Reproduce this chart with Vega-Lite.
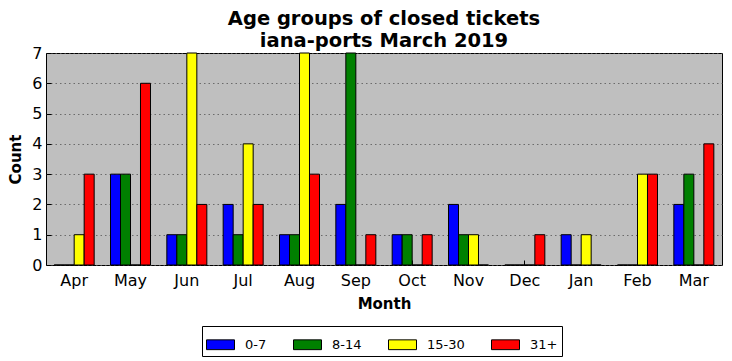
{
  "$schema": "https://vega.github.io/schema/vega-lite/v6.json",
  "width": 676,
  "height": 212,
  "autosize": {"type": "none"},
  "padding": {"left": 46, "top": 53, "right": 10, "bottom": 96},
  "background": "white",
  "title": {
    "text": ["Age groups of closed tickets", "iana-ports March 2019"],
    "font": "DejaVu Sans",
    "fontSize": 19.5,
    "fontWeight": "bold",
    "lineHeight": 22,
    "anchor": "middle",
    "frame": "group",
    "offset": -6,
    "color": "black"
  },
  "config": {
    "view": {"fill": "#bfbfbf", "stroke": "black", "strokeWidth": 1},
    "axis": {
      "labelFont": "DejaVu Sans",
      "labelFontSize": 16,
      "labelColor": "black",
      "titleFont": "DejaVu Sans",
      "titleFontSize": 15,
      "titleFontWeight": "bold",
      "titleColor": "black",
      "domain": false,
      "tickColor": "black",
      "tickSize": -5,
      "grid": false
    },
    "legend": {
      "labelFont": "DejaVu Sans",
      "labelFontSize": 13,
      "labelColor": "black"
    }
  },
  "data": {
    "values": [
      {"month": "Apr", "group": "0-7", "count": 0},
      {"month": "Apr", "group": "8-14", "count": 0},
      {"month": "Apr", "group": "15-30", "count": 1},
      {"month": "Apr", "group": "31+", "count": 3},
      {"month": "May", "group": "0-7", "count": 3},
      {"month": "May", "group": "8-14", "count": 3},
      {"month": "May", "group": "15-30", "count": 0},
      {"month": "May", "group": "31+", "count": 6},
      {"month": "Jun", "group": "0-7", "count": 1},
      {"month": "Jun", "group": "8-14", "count": 1},
      {"month": "Jun", "group": "15-30", "count": 7},
      {"month": "Jun", "group": "31+", "count": 2},
      {"month": "Jul", "group": "0-7", "count": 2},
      {"month": "Jul", "group": "8-14", "count": 1},
      {"month": "Jul", "group": "15-30", "count": 4},
      {"month": "Jul", "group": "31+", "count": 2},
      {"month": "Aug", "group": "0-7", "count": 1},
      {"month": "Aug", "group": "8-14", "count": 1},
      {"month": "Aug", "group": "15-30", "count": 7},
      {"month": "Aug", "group": "31+", "count": 3},
      {"month": "Sep", "group": "0-7", "count": 2},
      {"month": "Sep", "group": "8-14", "count": 7},
      {"month": "Sep", "group": "15-30", "count": 0},
      {"month": "Sep", "group": "31+", "count": 1},
      {"month": "Oct", "group": "0-7", "count": 1},
      {"month": "Oct", "group": "8-14", "count": 1},
      {"month": "Oct", "group": "15-30", "count": 0},
      {"month": "Oct", "group": "31+", "count": 1},
      {"month": "Nov", "group": "0-7", "count": 2},
      {"month": "Nov", "group": "8-14", "count": 1},
      {"month": "Nov", "group": "15-30", "count": 1},
      {"month": "Nov", "group": "31+", "count": 0},
      {"month": "Dec", "group": "0-7", "count": 0},
      {"month": "Dec", "group": "8-14", "count": 0},
      {"month": "Dec", "group": "15-30", "count": 0},
      {"month": "Dec", "group": "31+", "count": 1},
      {"month": "Jan", "group": "0-7", "count": 1},
      {"month": "Jan", "group": "8-14", "count": 0},
      {"month": "Jan", "group": "15-30", "count": 1},
      {"month": "Jan", "group": "31+", "count": 0},
      {"month": "Feb", "group": "0-7", "count": 0},
      {"month": "Feb", "group": "8-14", "count": 0},
      {"month": "Feb", "group": "15-30", "count": 3},
      {"month": "Feb", "group": "31+", "count": 3},
      {"month": "Mar", "group": "0-7", "count": 2},
      {"month": "Mar", "group": "8-14", "count": 3},
      {"month": "Mar", "group": "15-30", "count": 0},
      {"month": "Mar", "group": "31+", "count": 4}
    ]
  },
  "mark": {"type": "bar", "stroke": "black", "strokeWidth": 1},
  "encoding": {
    "x": {
      "field": "month",
      "type": "nominal",
      "sort": ["Apr", "May", "Jun", "Jul", "Aug", "Sep", "Oct", "Nov", "Dec", "Jan", "Feb", "Mar"],
      "scale": {"paddingInner": 0.29, "paddingOuter": 0.145},
      "axis": {"orient": "bottom", "labelAngle": 0, "labelPadding": 12, "title": "Month", "titlePadding": 8}
    },
    "xOffset": {
      "field": "group",
      "type": "nominal",
      "sort": ["0-7", "8-14", "15-30", "31+"],
      "scale": {"paddingInner": 0, "paddingOuter": 0}
    },
    "y": {
      "field": "count",
      "type": "quantitative",
      "scale": {"domain": [0, 7], "nice": false},
      "axis": {
        "orient": "left",
        "values": [0, 1, 2, 3, 4, 5, 6, 7],
        "labelPadding": 9,
        "title": "Count",
        "titlePadding": 8,
        "grid": true,
        "gridDash": [1.5, 3],
        "gridColor": "#555555",
        "gridWidth": 0.8
      }
    },
    "color": {
      "field": "group",
      "type": "nominal",
      "sort": ["0-7", "8-14", "15-30", "31+"],
      "scale": {"domain": ["0-7", "8-14", "15-30", "31+"], "range": ["#0000ff", "#008000", "#ffff00", "#ff0000"]},
      "legend": {
        "title": null,
        "orient": "none",
        "legendX": 156,
        "legendY": 273,
        "direction": "horizontal",
        "symbolType": "M-1,-0.35H1V0.35H-1Z",
        "symbolSize": 784,
        "symbolStrokeColor": "black",
        "symbolStrokeWidth": 1,
        "symbolOpacity": 1,
        "labelOffset": 10,
        "columnPadding": 24,
        "strokeColor": "black",
        "fillColor": "white",
        "padding": 4
      }
    }
  }
}
